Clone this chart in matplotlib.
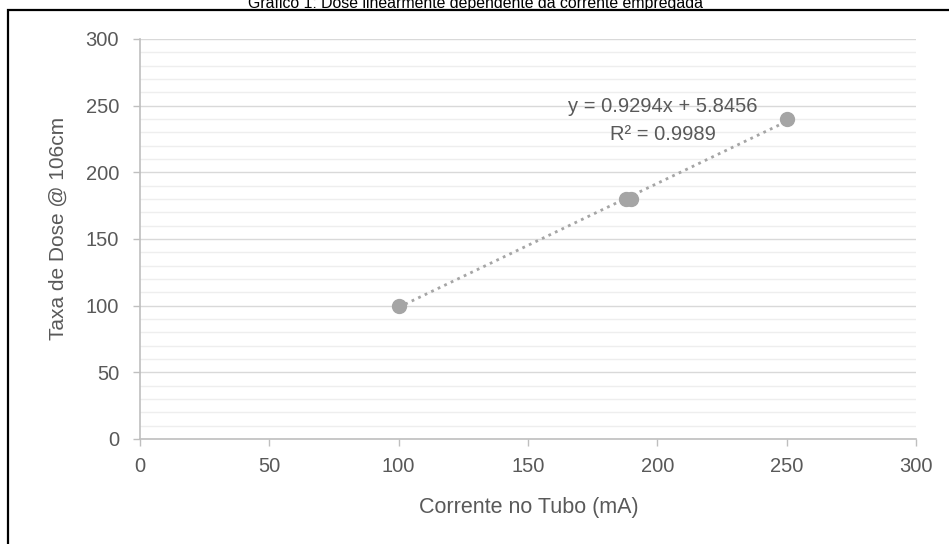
import matplotlib
matplotlib.use("Agg")
import matplotlib.pyplot as plt
from matplotlib.patches import Rectangle
import numpy as np

corrente = [100, 188, 190, 250]
dose = [100, 180, 180, 240]
x_ticks = [0, 50, 100, 150, 200, 250, 300]
y_ticks = [0, 50, 100, 150, 200, 250, 300]

title = "Gráfico 1: Dose linearmente dependente da corrente empregada"
xlabel = "Corrente no Tubo (mA)"
ylabel = "Taxa de Dose @ 106cm"

plt.rcParams['font.family'] = ['Liberation Sans', 'DejaVu Sans']

W, H = 949, 544
fig = plt.figure(figsize=(W/100, H/100), dpi=100)
ax = fig.add_axes([140/W, 1-439/H, (916-140)/W, (439-39)/H])

# trendline
slope, intercept = np.polyfit(corrente, dose, 1)
pred = np.polyval([slope, intercept], corrente)
r2 = 1 - np.sum((np.array(dose) - pred)**2) / np.sum((np.array(dose) - np.mean(dose))**2)
xl = np.array([min(corrente), max(corrente)])
ax.plot(xl, slope*xl + intercept, linestyle=(0, (1, 1.6)), color='#A5A5A5', lw=2.0, zorder=3)
ax.plot(corrente, dose, 'o', color='#A5A5A5', markersize=10, zorder=4)

ax.set_xlim(0, 300)
ax.set_ylim(0, 300)
ax.set_xticks(x_ticks)
ax.set_yticks(y_ticks)
ax.set_yticks(np.arange(0, 301, 10), minor=True)
ax.grid(which='minor', axis='y', color='#EEEEEE', lw=1.0)
ax.grid(which='major', axis='y', color='#D9D9D9', lw=1.0)
ax.set_axisbelow(True)
ax.tick_params(which='minor', length=0)
ax.tick_params(which='major', length=5, color='#BFBFBF', width=1, direction='out',
               labelcolor='#595959', labelsize=14.5)
ax.tick_params(axis='y', pad=10)
ax.tick_params(axis='x', pad=8)
for s in ['top', 'right']:
    ax.spines[s].set_visible(False)
for s in ['left', 'bottom']:
    ax.spines[s].set_color('#BFBFBF')
    ax.spines[s].set_linewidth(1.2)

fig.text(529/W, 1-507/H, xlabel, color='#595959', fontsize=15.5, ha='center', va='center')
fig.text(58/W, 1-228/H, ylabel, color='#595959', fontsize=15, ha='center', va='center', rotation=90)

fig.text(663/W, 1-106/H, f"y = {slope:.4f}x + {intercept:.4f}", color='#595959', fontsize=14.5, ha='center', va='center')
fig.text(663/W, 1-135/H, f"R² = {r2:.4f}", color='#595959', fontsize=14.5, ha='center', va='center')

fig.text(476/W, 1-8/H, title, ha='center', va='baseline', fontsize=11.4, color='black')
fig.patches.append(Rectangle((7.5/W, -0.1), 1.2, 1.1 - 10/H, transform=fig.transFigure,
                             fill=False, edgecolor='black', lw=1.6, figure=fig))

fig.savefig("out.png", dpi=100)
